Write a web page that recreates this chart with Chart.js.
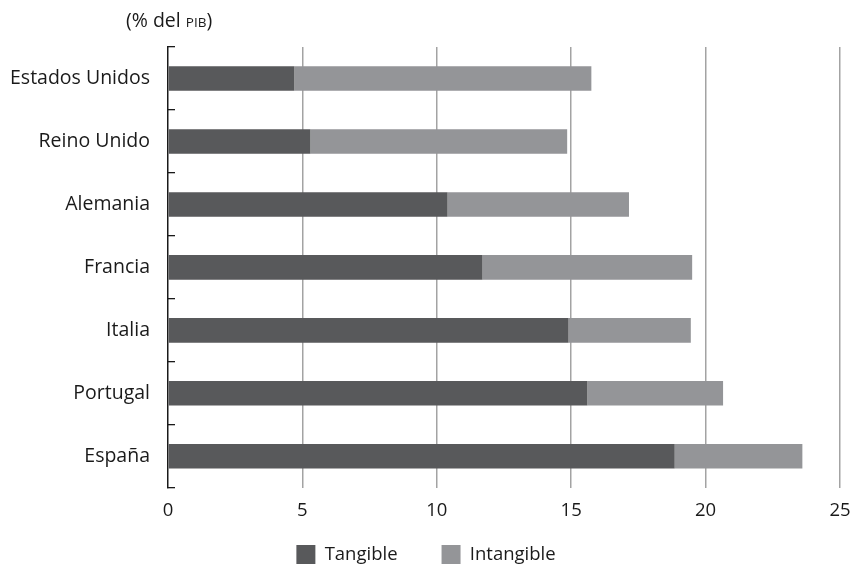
<!DOCTYPE html>
<html lang="es">
<head>
<meta charset="UTF-8">
<title>Inversión tangible e intangible</title>
<script src="https://cdn.jsdelivr.net/npm/chart.js"></script>
<style>
  html, body { margin: 0; padding: 0; background: #fff; }
  .wrap { position: relative; width: 852px; height: 568px; }
  .unit {
    position: absolute; left: 126px; top: 6px;
    font-family: "Open Sans", sans-serif; font-size: 19.5px; color: #1a1a1a;
  }
  .unit span { font-size: 13.5px; }
</style>
</head>
<body>
<div class="wrap">
  <div class="unit">(% del <span>PIB</span>)</div>
  <canvas id="chart" width="852" height="568"></canvas>
</div>
<script>
const countries = ['Estados Unidos', 'Reino Unido', 'Alemania', 'Francia', 'Italia', 'Portugal', 'España'];
const tangible = [4.7, 5.3, 10.4, 11.7, 14.9, 15.6, 18.85];
const intangible = [11.05, 9.55, 6.75, 7.8, 4.55, 5.05, 4.75];
const xTicks = [0, 5, 10, 15, 20, 25];

const darkGrey = '#58595b';
const lightGrey = '#949598';
const ink = '#1a1a1a';

Chart.defaults.font.family = '"Open Sans", sans-serif';
Chart.defaults.color = ink;

new Chart(document.getElementById('chart'), {
  type: 'bar',
  data: {
    labels: countries,
    datasets: [
      { label: 'Tangible', data: tangible, backgroundColor: darkGrey },
      { label: 'Intangible', data: intangible, backgroundColor: lightGrey }
    ]
  },
  options: {
    indexAxis: 'y',
    responsive: false,
    animation: false,
    datasets: {
      bar: { categoryPercentage: 1, barPercentage: 0.39 }
    },
    layout: { padding: { top: 47, right: 0, left: 0, bottom: -6 } },
    scales: {
      x: {
        stacked: true,
        min: 0,
        max: 25,
        afterBuildTicks: axis => { axis.ticks = xTicks.map(v => ({ value: v })); },
        afterFit: axis => { axis.paddingRight = 12; },
        grid: {
          drawTicks: false,
          lineWidth: 1.5,
          color: ctx => ctx.tick && ctx.tick.value === 0 ? 'rgba(0,0,0,0)' : '#a3a3a3'
        },
        border: { display: false },
        ticks: { padding: 12, font: { size: 18.5 }, color: ink }
      },
      y: {
        stacked: true,
        afterFit: axis => { axis.width = 168; },
        grid: {
          drawOnChartArea: false,
          tickLength: -7,
          lineWidth: 1.3,
          color: ink
        },
        border: { display: true, color: ink, width: 1.5 },
        ticks: { padding: 25, font: { size: 19.5 }, color: ink }
      }
    },
    plugins: {
      legend: {
        position: 'bottom',
        // empty title with negative padding pulls the items up while
        // keeping the wide horizontal gap between them
        title: { display: true, text: '', font: { size: 10, lineHeight: 1 }, padding: { top: -43, bottom: 0 } },
        labels: {
          boxWidth: 19,
          boxHeight: 19,
          padding: 44,
          font: { size: 18.5 },
          color: ink
        }
      },
      tooltip: { enabled: false }
    }
  }
});
</script>
</body>
</html>
